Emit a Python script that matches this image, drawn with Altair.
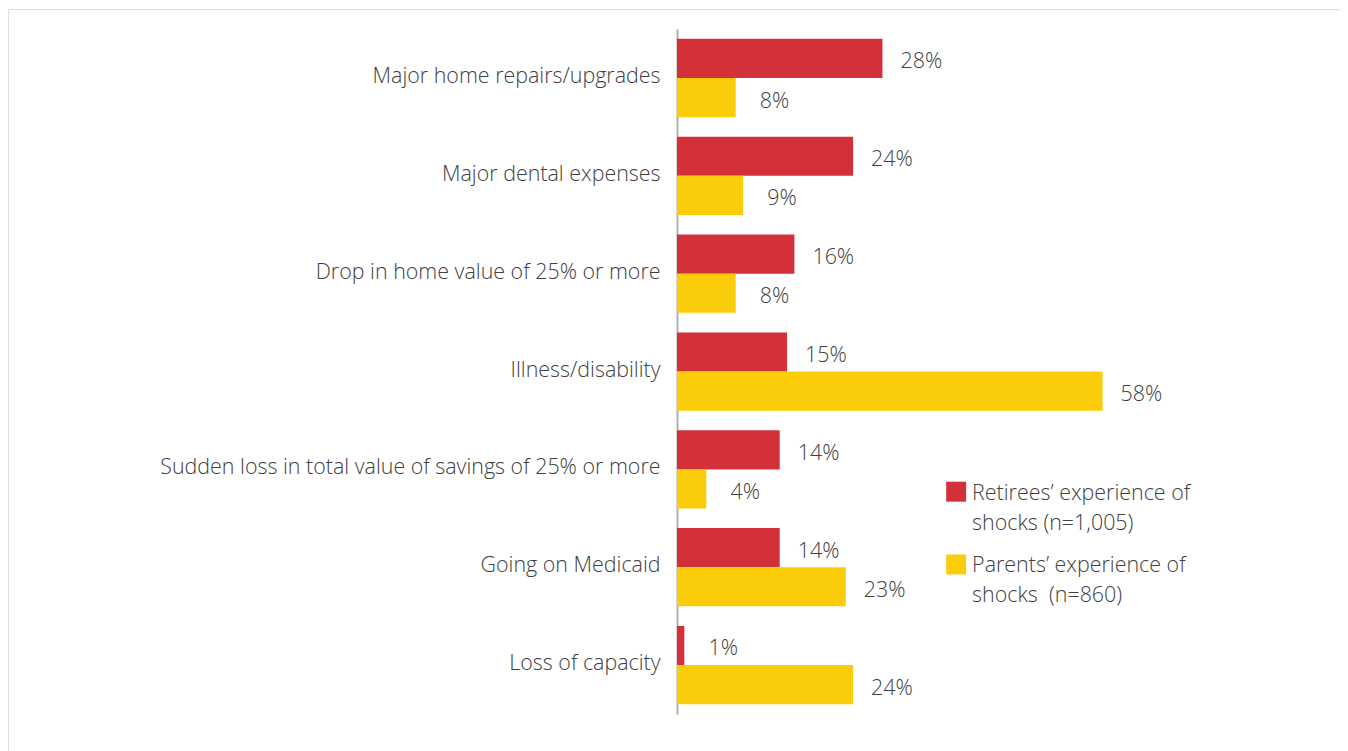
import altair as alt
import pandas as pd

categories = [
    "Major home repairs/upgrades",
    "Major dental expenses",
    "Drop in home value of 25% or more",
    "Illness/disability",
    "Sudden loss in total value of savings of 25% or more",
    "Going on Medicaid",
    "Loss of capacity",
]
retirees = [28, 24, 16, 15, 14, 14, 1]
parents = [8, 9, 8, 58, 4, 23, 24]
series = [
    "Retirees’ experience of|shocks (n=1,005)",
    "Parents’ experience of|shocks\u00a0 (n=860)",
]
colors = ["#D3303A", "#FBCC0A"]

rows = []
for c, r, p in zip(categories, retirees, parents):
    rows.append({"category": c, "series": series[0], "value": r, "label": f"{r}%"})
    rows.append({"category": c, "series": series[1], "value": p, "label": f"{p}%"})
df = pd.DataFrame(rows)

FONT = "Open Sans"
WEIGHT = 300
FS = 21.5
TXT = "#404040"

color_scale = alt.Scale(domain=series, range=colors)

base = alt.Chart(df).encode(
    y=alt.Y(
        "category:N",
        sort=categories,
        scale=alt.Scale(range=[20, 707], paddingInner=0.2, paddingOuter=0.1),
        axis=alt.Axis(
            title=None,
            ticks=False,
            offset=-671,
            labelPadding=17,
            labelOffset=-1,
            labelFontSize=FS,
            labelFont=FONT,
            labelFontWeight=WEIGHT,
            labelColor=TXT,
            labelLimit=650,
            domainColor="#b0b0b0",
            domainWidth=2,
        ),
    ),
    yOffset=alt.YOffset("series:N", sort=series, scale=alt.Scale(paddingInner=0, paddingOuter=0)),
    x=alt.X(
        "value:Q",
        scale=alt.Scale(domain=[0, 90], range=[671, 1333.4]),
        axis=None,
    ),
)

bars = base.mark_bar().encode(
    color=alt.Color("series:N", sort=series, scale=color_scale, legend=None)
)

labels = base.mark_text(
    align="center", baseline="middle", dx=39, dy=4, fontSize=FS, font=FONT, fontWeight=WEIGHT, color=TXT
).encode(text="label:N")

# manual legend (one entry per series)
legend_layers = []
for i, s in enumerate(series):
    ldf = pd.DataFrame({"series": [s]})
    sq = alt.Chart(ldf).mark_square(size=400, opacity=1).encode(
        x=alt.value(951),
        y=alt.value(484 + i * 73),
        color=alt.Color("series:N", scale=color_scale, legend=None),
    )
    tx = (
        alt.Chart(ldf)
        .transform_calculate(lines="split(datum.series, '|')")
        .mark_text(
            align="left", baseline="alphabetic", fontSize=FS, font=FONT, fontWeight=WEIGHT,
            color=TXT, lineHeight=30,
        )
        .encode(x=alt.value(967), y=alt.value(492 + i * 73), text="lines:N")
    )
    legend_layers += [sq, tx]

chart = (
    alt.layer(bars, labels, *legend_layers)
    .properties(width=1336, height=750, padding=0, autosize=alt.AutoSizeParams(type="none"))
    .configure_view(stroke="#888888", strokeWidth=2.5)
    .configure(font=FONT)
)

chart.save("out.html", embed_options={"renderer": "svg", "actions": False})
